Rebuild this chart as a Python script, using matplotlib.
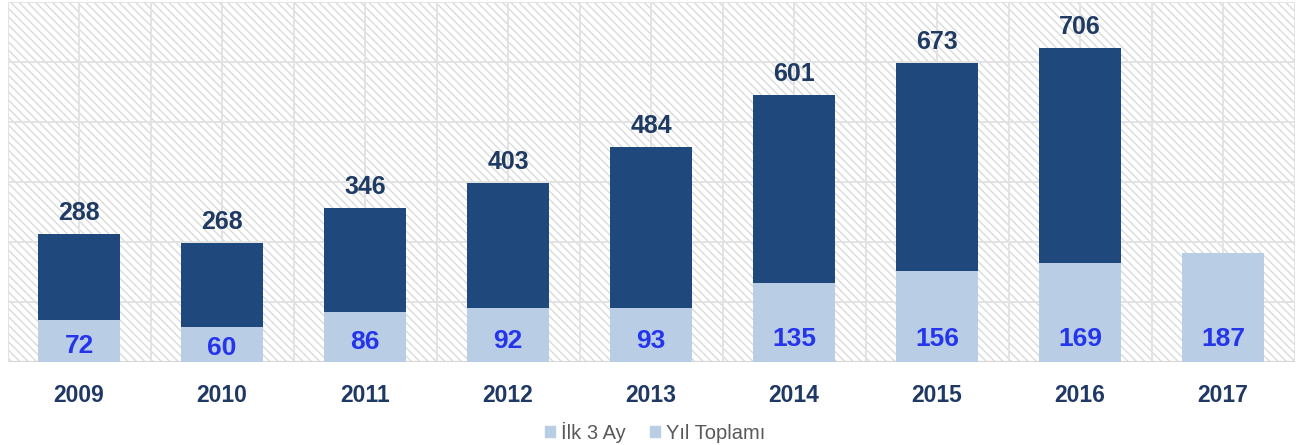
import matplotlib.pyplot as plt
import numpy as np
from matplotlib.patches import Rectangle, Patch

plt.rcParams['font.family'] = ['Liberation Sans', 'DejaVu Sans']
plt.rcParams['hatch.linewidth'] = 1.0

years = ['2009', '2010', '2011', '2012', '2013', '2014', '2015', '2016', '2017']
toplam = [288, 268, 346, 403, 484, 601, 673, 706, None]   # Yıl Toplamı
ilk3 = [72, 60, 86, 92, 93, 135, 156, 169, 187]           # İlk 3 Ay

dark = '#1F497D'
light = '#B9CDE5'

fig = plt.figure(figsize=(12.96, 4.45), dpi=100)
ax = fig.add_axes([7.5/1296, 1-362/445, 1287/1296, 360/445])
ax2 = ax.twinx()

x = np.arange(len(years))
w = 0.57

# hatched background
ax.add_patch(Rectangle((0, 0), 1, 1, transform=ax.transAxes, facecolor='white',
                       edgecolor='#dadada', hatch='\\\\\\\\', lw=0, zorder=0))

# grid: half-category vertical lines, horizontal every 135
for gx in np.arange(-0.5, len(years), 0.5):
    ax.axvline(gx, color='#e3e3e3', lw=1.4, zorder=1)
for gy in np.arange(135, 811, 135):
    ax.axhline(gy, color='#e3e3e3', lw=1.4, zorder=1)
ax.axhline(0, color='#d6d6d6', lw=1.6, zorder=1)

xt = [i for i, v in enumerate(toplam) if v is not None]
vt = [v for v in toplam if v is not None]
ax.bar(xt, vt, width=w, color=dark, zorder=2)
for xi, v in zip(xt, vt):
    ax.annotate(str(v), (xi, v), xytext=(0, 10), textcoords='offset points',
                ha='center', va='baseline', fontsize=18, fontweight='bold', color='#1F3B63')

ax2.bar(x, ilk3, width=w, color=light, zorder=3)
for xi, v in zip(x, ilk3):
    h = v * 0.585
    off = min(h * 0.39, 23) * 0.72
    ax2.annotate(str(v), (xi, 0), xytext=(0, off), textcoords='offset points',
                 ha='center', va='center', fontsize=19, fontweight='bold', color='#2535EC')

ax.set_xlim(-0.5, len(years) - 0.5)
ax.set_ylim(0, 810)
ax2.set_ylim(0, 615)
ax.set_yticks([])
ax2.set_yticks([])
ax.set_xticks(x)
ax.set_xticklabels(years, fontsize=16.5, fontweight='bold', color='#1F3864')
ax.tick_params(axis='x', length=0, pad=16)
for a in (ax, ax2):
    for s in a.spines.values():
        s.set_visible(False)

handles = [Patch(color=light), Patch(color=light)]
fig.legend(handles, ['İlk 3 Ay', 'Yıl Toplamı'], loc='center', bbox_to_anchor=(655/1296, 1-432/445),
           ncol=2, frameon=False, fontsize=14.5, labelcolor='#595959',
           handlelength=0.5, handleheight=0.5, handletextpad=0.3, columnspacing=1.2)

fig.savefig('out.png', dpi=100)
